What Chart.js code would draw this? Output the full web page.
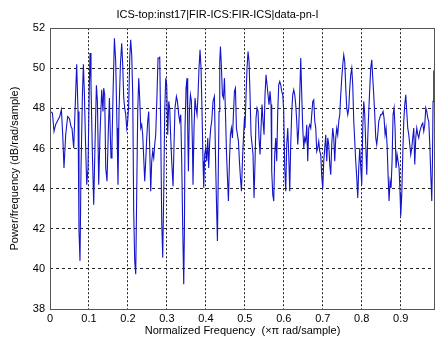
<!DOCTYPE html>
<html>
<head>
<meta charset="utf-8">
<script src="https://cdn.jsdelivr.net/npm/chart.js@4.4.1/dist/chart.umd.min.js"></script>
<style>
html,body{margin:0;padding:0;background:#fff;}
#wrap{width:436px;height:340px;}
</style>
</head>
<body>
<div id="wrap"><canvas id="c" width="436" height="340"></canvas></div>
<script>
const chartTitle = "ICS-top:inst17|FIR-ICS:FIR-ICS|data-pn-I";
const xTitle = "Normalized Frequency  (\u00d7\u03c0 rad/sample)";
const yTitle = "Power/frequency (dB/rad/sample)";
const xTickValues = [0, 0.1, 0.2, 0.3, 0.4, 0.5, 0.6, 0.7, 0.8, 0.9];
const xTickLabels = ["0", "0.1", "0.2", "0.3", "0.4", "0.5", "0.6", "0.7", "0.8", "0.9"];
const yTickValues = [38, 40, 42, 44, 46, 48, 50, 52];
const yTickLabels = ["38", "40", "42", "44", "46", "48", "50", "52"];

const freq = [
0.0000,0.0010,0.0062,0.0103,0.0146,0.0198,0.0249,0.0293,0.0326,0.0359,
0.0403,0.0454,0.0498,0.0539,0.0565,0.0608,0.0642,0.0685,0.0719,0.0744,
0.0770,0.0796,0.0832,0.0857,0.0883,0.0909,0.0942,0.0975,0.1011,0.1027,
0.1052,0.1088,0.1122,0.1155,0.1191,0.1217,0.1250,0.1283,0.1327,0.1360,
0.1378,0.1404,0.1430,0.1463,0.1499,0.1525,0.1550,0.1566,0.1591,0.1617,
0.1653,0.1686,0.1720,0.1745,0.1771,0.1807,0.1840,0.1866,0.1892,0.1917,
0.1943,0.1969,0.1994,0.2020,0.2046,0.2071,0.2097,0.2123,0.2148,0.2174,
0.2200,0.2225,0.2251,0.2277,0.2302,0.2328,0.2354,0.2379,0.2405,0.2431,
0.2456,0.2482,0.2508,0.2533,0.2559,0.2585,0.2610,0.2636,0.2662,0.2687,
0.2713,0.2746,0.2772,0.2798,0.2816,0.2841,0.2867,0.2893,0.2918,0.2944,
0.2970,0.2995,0.3021,0.3047,0.3072,0.3098,0.3124,0.3157,0.3183,0.3208,
0.3244,0.3270,0.3303,0.3329,0.3355,0.3380,0.3406,0.3432,0.3450,0.3465,
0.3491,0.3516,0.3534,0.3552,0.3578,0.3604,0.3629,0.3655,0.3670,0.3696,
0.3722,0.3747,0.3773,0.3799,0.3824,0.3850,0.3876,0.3901,0.3927,0.3945,
0.3971,0.3996,0.4022,0.4048,0.4073,0.4099,0.4125,0.4150,0.4184,0.4219,
0.4253,0.4279,0.4297,0.4322,0.4338,0.4356,0.4374,0.4400,0.4425,0.4451,
0.4477,0.4502,0.4528,0.4554,0.4579,0.4605,0.4630,0.4656,0.4682,0.4707,
0.4733,0.4759,0.4784,0.4810,0.4836,0.4861,0.4887,0.4913,0.4938,0.4964,
0.4990,0.5005,0.5031,0.5056,0.5082,0.5108,0.5133,0.5159,0.5185,0.5210,
0.5236,0.5262,0.5287,0.5313,0.5339,0.5364,0.5390,0.5416,0.5441,0.5467,
0.5493,0.5518,0.5544,0.5570,0.5595,0.5621,0.5647,0.5672,0.5690,0.5716,
0.5742,0.5767,0.5793,0.5819,0.5844,0.5870,0.5896,0.5921,0.5947,0.5973,
0.5998,0.6024,0.6050,0.6075,0.6101,0.6127,0.6152,0.6178,0.6204,0.6229,
0.6255,0.6281,0.6306,0.6332,0.6358,0.6383,0.6409,0.6435,0.6460,0.6486,
0.6512,0.6537,0.6563,0.6589,0.6614,0.6640,0.6666,0.6691,0.6717,0.6743,
0.6768,0.6794,0.6820,0.6845,0.6871,0.6897,0.6922,0.6948,0.6974,0.6999,
0.7025,0.7051,0.7076,0.7102,0.7128,0.7153,0.7179,0.7205,0.7230,0.7256,
0.7282,0.7307,0.7333,0.7359,0.7384,0.7410,0.7436,0.7461,0.7487,0.7513,
0.7538,0.7564,0.7590,0.7615,0.7641,0.7667,0.7692,0.7718,0.7744,0.7769,
0.7795,0.7821,0.7846,0.7872,0.7898,0.7923,0.7949,0.7975,0.8000,0.8026,
0.8052,0.8077,0.8103,0.8129,0.8154,0.8180,0.8206,0.8231,0.8257,0.8283,
0.8308,0.8334,0.8360,0.8385,0.8411,0.8437,0.8462,0.8488,0.8514,0.8547,
0.8573,0.8599,0.8624,0.8650,0.8676,0.8701,0.8727,0.8753,0.8778,0.8804,
0.8830,0.8855,0.8881,0.8907,0.8932,0.8958,0.8984,0.9001,0.9027,0.9053,
0.9078,0.9104,0.9130,0.9155,0.9181,0.9207,0.9232,0.9258,0.9284,0.9309,
0.9335,0.9361,0.9386,0.9412,0.9438,0.9463,0.9489,0.9515,0.9541,0.9566,
0.9592,0.9618,0.9643,0.9669,0.9695,0.9720,0.9746,0.9772,0.9797,0.9815,
0.9830,0.9848,0.9866,0.9882,0.9900
];

const powerDb = [
43.05,47.85,47.77,46.86,47.20,47.40,47.60,47.94,46.70,45.03,
46.70,47.60,47.50,47.10,47.00,46.03,47.85,50.20,47.85,41.90,
40.40,45.00,48.70,50.20,48.70,46.50,44.20,45.00,49.35,50.76,
49.20,45.70,43.20,46.20,49.15,48.35,44.20,46.70,48.93,47.85,
49.01,48.68,45.03,44.37,47.02,48.52,46.53,45.53,46.20,48.68,
51.50,50.34,47.02,44.20,47.85,50.18,51.25,50.18,48.52,48.02,
47.69,47.02,47.36,48.19,50.51,51.42,50.67,48.68,42.88,40.39,
39.73,43.71,47.85,49.51,48.52,47.02,47.19,46.69,45.53,44.37,
45.37,46.53,47.36,47.85,46.03,43.87,45.37,45.86,45.53,46.20,
46.69,48.68,50.51,50.51,50.59,47.02,42.38,40.56,43.71,47.85,
49.51,49.18,46.69,48.35,48.02,46.53,45.37,44.12,46.20,48.02,
48.60,48.35,47.69,47.36,47.69,45.37,42.05,39.23,42.05,47.02,
49.01,49.51,47.02,44.87,47.85,48.68,48.35,46.20,44.20,47.02,
48.52,48.02,47.69,48.68,50.01,50.92,50.01,47.85,45.37,44.04,
45.70,46.03,45.37,46.53,45.03,46.36,47.02,47.36,48.35,48.60,
45.03,42.71,41.39,45.37,47.85,50.34,51.09,50.01,48.68,48.52,
49.51,47.85,45.86,44.54,43.38,45.37,46.69,47.02,46.53,47.69,
48.85,49.01,47.02,46.69,46.36,45.37,44.54,43.87,45.37,46.53,
47.52,47.02,48.68,50.01,50.84,50.34,48.68,46.69,46.20,45.70,
43.54,45.37,47.52,48.02,47.85,46.53,45.70,47.02,48.19,47.36,
46.69,48.68,49.68,49.18,48.68,48.19,48.85,48.19,44.87,43.71,
43.38,45.70,46.53,45.37,47.85,49.18,49.35,49.18,48.85,48.68,
47.85,45.03,43.87,46.20,47.02,45.70,43.87,46.20,47.85,48.68,
48.93,48.68,48.19,47.36,46.20,47.02,48.68,50.51,48.68,47.02,
46.03,46.53,46.36,47.19,45.37,47.02,47.19,47.02,47.69,48.35,
48.43,47.36,47.02,45.86,46.03,46.36,45.86,45.70,44.60,44.00,
45.37,46.03,46.69,45.37,46.53,46.20,45.20,44.70,46.20,47.02,
46.53,45.37,46.53,47.02,46.69,47.36,47.69,48.68,49.51,50.18,
50.67,50.34,49.01,48.02,47.69,48.02,49.01,49.68,50.01,49.18,
47.36,46.36,45.37,44.54,43.54,45.03,46.03,45.03,44.20,47.02,
48.35,47.69,46.20,44.70,46.53,47.85,49.01,50.01,50.42,49.51,
48.68,47.69,46.53,46.20,46.69,47.36,47.52,47.69,47.69,47.85,
47.52,46.69,47.02,46.20,44.70,43.38,44.37,44.04,45.37,47.69,
48.02,47.02,45.03,45.70,45.37,45.03,43.71,42.63,43.71,45.70,
47.36,48.19,48.68,47.85,47.02,46.69,46.20,45.70,46.03,46.53,
47.02,45.20,46.53,47.02,46.69,46.53,46.86,47.02,47.19,47.27,
46.86,47.19,48.02,47.85,47.52,47.36,46.20,44.70,43.38,45.37,
48.35,49.84,49.93,48.68,48.19
];

const points = freq.map((f, i) => ({ x: f, y: powerDb[i] }));

const framePlugin = {
  id: 'frame',
  afterDraw(chart) {
    const { ctx, chartArea: a } = chart;
    ctx.save();
    ctx.strokeStyle = '#555';
    ctx.lineWidth = 1;
    ctx.setLineDash([]);
    ctx.strokeRect(Math.round(a.left) + 0.5, Math.round(a.top) + 0.5,
                   Math.round(a.right - a.left) - 1, Math.round(a.bottom - a.top));
    ctx.restore();
  }
};

const baseFont = { family: "'Liberation Sans', Arial, sans-serif", size: 11 };

new Chart(document.getElementById('c'), {
  type: 'line',
  data: {
    datasets: [{
      data: points,
      borderColor: '#1414c8',
      borderWidth: 1.1,
      pointRadius: 0,
      tension: 0,
      fill: false
    }]
  },
  options: {
    responsive: false,
    devicePixelRatio: 1,
    animation: false,
    layout: { padding: { left: 0, right: 1, top: 0, bottom: 0 } },
    plugins: {
      legend: { display: false },
      tooltip: { enabled: false },
      title: {
        display: true,
        text: chartTitle,
        color: '#000',
        font: { ...baseFont, weight: 'normal' },
        padding: { top: 8, bottom: 7 }
      }
    },
    scales: {
      x: {
        type: 'linear',
        min: 0,
        max: 0.988,
        afterBuildTicks: (s) => { s.ticks = xTickValues.map(v => ({ value: v })); },
        afterFit: (s) => { s.height = 31; },
        ticks: {
          color: '#000',
          font: baseFont,
          padding: 3,
          maxRotation: 0,
          autoSkip: false,
          callback: (v, i) => xTickLabels[i]
        },
        grid: { color: '#222', lineWidth: 1, drawTicks: false },
        border: { display: false, dash: [2, 2] },
        title: { display: true, text: xTitle, color: '#000', font: baseFont, padding: { top: 0, bottom: 2 } }
      },
      y: {
        type: 'linear',
        min: 38,
        max: 52,
        afterBuildTicks: (s) => { s.ticks = yTickValues.map(v => ({ value: v })); },
        afterFit: (s) => { s.width = 50; },
        ticks: {
          color: '#000',
          font: baseFont,
          padding: 5,
          autoSkip: false,
          callback: (v, i) => yTickLabels[i]
        },
        grid: { color: '#222', lineWidth: 1, drawTicks: false },
        border: { display: false, dash: [3, 3] },
        title: { display: true, text: yTitle, color: '#000', font: baseFont, padding: { top: 8, bottom: 0 } }
      }
    }
  },
  plugins: [framePlugin]
});
</script>
</body>
</html>
